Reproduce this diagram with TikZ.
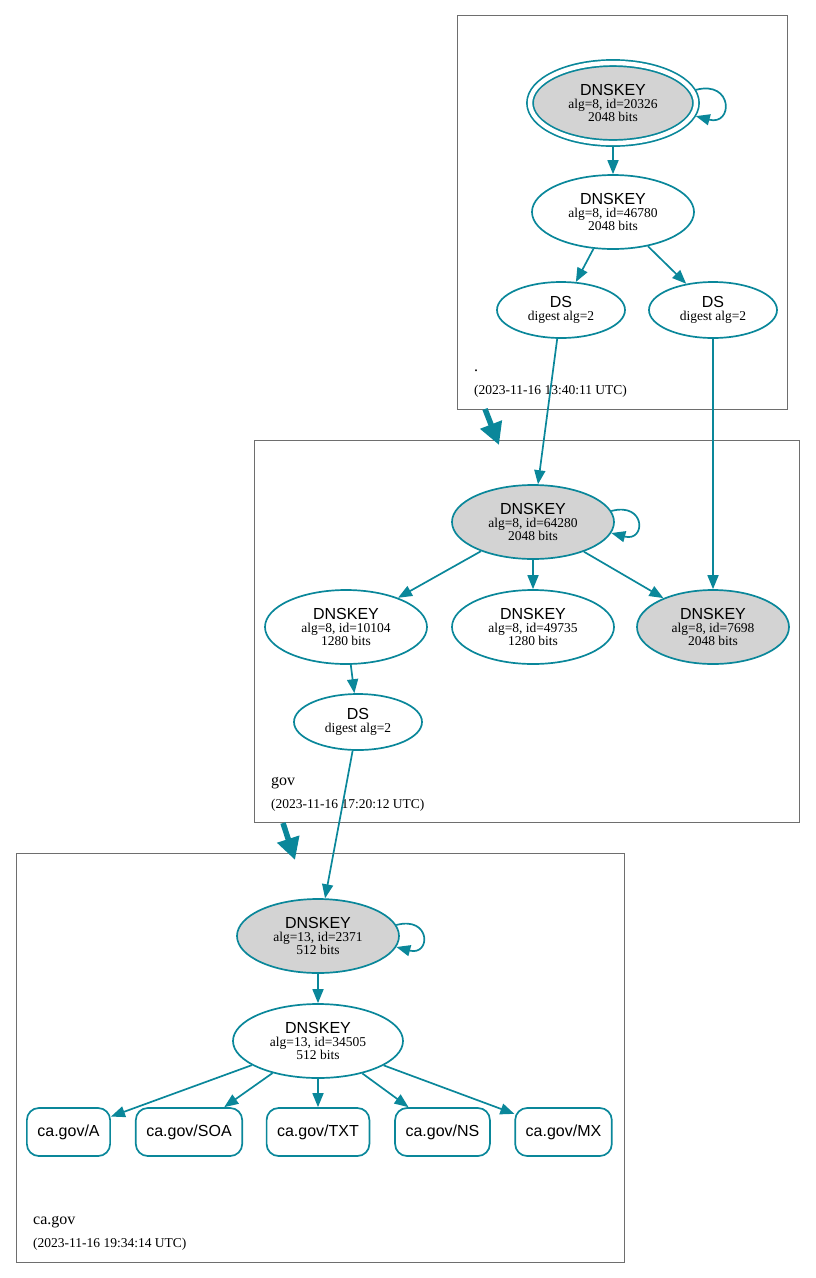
\documentclass[tikz,border=0pt]{standalone}
\usepackage{fontspec}
\setmainfont{Liberation Serif}
\setsansfont{Liberation Sans}
\usetikzlibrary{arrows.meta,shapes.geometric}
\definecolor{secure}{HTML}{0A879A}
\definecolor{keygray}{HTML}{D3D3D3}
\definecolor{zoneline}{HTML}{6E6E6E}
\newcommand{\kname}[1]{{\sffamily\fontsize{16}{16}\selectfont #1}}

\begin{document}
\begin{tikzpicture}[x=1pt,y=-1pt,
    key node/.style={ellipse,draw=secure,line width=1.7pt,inner sep=0pt,minimum width=162pt,minimum height=74pt,align=center,font=\fontsize{13.5}{13}\selectfont},
    sep node/.style={key node,fill=keygray},
    ds node/.style={key node,minimum width=128pt,minimum height=56pt},
    rr node/.style={rectangle,rounded corners=12pt,draw=secure,line width=1.7pt,inner xsep=10.5pt,minimum height=48pt,font=\sffamily\fontsize{16}{16}\selectfont},
    zone/.style={rectangle,draw=zoneline,line width=1pt,inner sep=0pt},
    zone name/.style={anchor=base west,inner sep=0pt,font=\fontsize{16}{16}\selectfont},
    zone date/.style={anchor=base west,inner sep=0pt,font=\fontsize{13.5}{13.5}\selectfont},
    sig/.style={color=secure,line width=1.7pt,-{Triangle[length=14pt,width=11pt]}},
    deleg/.style={color=secure,line width=5.5pt,-{Triangle[length=22pt,width=22pt]}}]
    \useasboundingbox (0,0) rectangle (816,1278);

    % zones
    \node[zone,minimum width=330.4pt,minimum height=393.3pt] (rootzone) at (622.5,212.4) {};
    \node[zone,minimum width=545.5pt,minimum height=382pt] (govzone) at (527.2,631.7) {};
    \node[zone,minimum width=608pt,minimum height=409pt] (cazone) at (320,1057.5) {};

    \node[zone name] (rootname) at (474,371) {.};
    \node[zone date] (rootdate) at (474,394) {(2023-11-16 13:40:11 UTC)};
    \node[zone name] (govname) at (271,785) {gov};
    \node[zone date] (govdate) at (271,808) {(2023-11-16 17:20:12 UTC)};
    \node[zone name] (caname) at (33,1224) {ca.gov};
    \node[zone date] (cadate) at (33,1247) {(2023-11-16 19:34:14 UTC)};

    % root
    \node[sep node,minimum width=166pt,minimum height=80pt,double=white,double distance=4.4pt,outer sep=3.8pt] (rootksk) at (613,103) {\kname{DNSKEY}\\alg=8, id=20326\\2048 bits};
    \node[key node] (rootzsk) at (613,212) {\kname{DNSKEY}\\alg=8, id=46780\\2048 bits};
    \node[ds node] (rootdsa) at (561,310) {\kname{DS}\\digest alg=2};
    \node[ds node] (rootdsb) at (713,310) {\kname{DS}\\digest alg=2};

    % gov
    \node[sep node] (govksk) at (533,522) {\kname{DNSKEY}\\alg=8, id=64280\\2048 bits};
    \node[key node] (govzska) at (346,627) {\kname{DNSKEY}\\alg=8, id=10104\\1280 bits};
    \node[key node] (govzskb) at (533,627) {\kname{DNSKEY}\\alg=8, id=49735\\1280 bits};
    \node[sep node,minimum width=152pt] (govkskb) at (713,627) {\kname{DNSKEY}\\alg=8, id=7698\\2048 bits};
    \node[ds node] (govds) at (358,722) {\kname{DS}\\digest alg=2};

    % ca.gov
    \node[sep node] (caksk) at (318,936) {\kname{DNSKEY}\\alg=13, id=2371\\512 bits};
    \node[key node,minimum width=170pt] (cazsk) at (318,1041) {\kname{DNSKEY}\\alg=13, id=34505\\512 bits};
    \node[rr node] (caA) at (68.5,1132) {ca.gov/A};
    \node[rr node] (caSOA) at (189,1132) {ca.gov/SOA};
    \node[rr node] (caTXT) at (318,1132) {ca.gov/TXT};
    \node[rr node] (caNS) at (442.5,1132) {ca.gov/NS};
    \node[rr node] (caMX) at (563.5,1132) {ca.gov/MX};

    \coordinate (rootout) at (485,409);
    \coordinate (govin) at (499,445);
    \coordinate (govout) at (283,823);
    \coordinate (cain) at (295,860);

    \path[sig]
        (rootksk) edge (rootzsk)
        (rootksk.9) edge[out=15,in=-15,looseness=3.8] (rootksk.-9)
        (rootzsk) edge (rootdsa)
        (rootzsk) edge (rootdsb)
        (rootdsa) edge (govksk)
        (rootdsb) edge (govkskb)
        (govksk.8) edge[out=15,in=-15,looseness=4.2] (govksk.-8)
        (govksk) edge (govzska)
        (govksk) edge (govzskb)
        (govksk) edge (govkskb)
        (govzska) edge (govds)
        (govds) edge (caksk)
        (caksk.8) edge[out=15,in=-15,looseness=4.2] (caksk.-8)
        (caksk) edge (cazsk)
        (cazsk) edge (caA)
        (cazsk) edge (caSOA)
        (cazsk) edge (caTXT)
        (cazsk) edge (caNS)
        (cazsk) edge (caMX);

    \path[deleg]
        (rootout) edge (govin)
        (govout) edge (cain);
\end{tikzpicture}
\end{document}
